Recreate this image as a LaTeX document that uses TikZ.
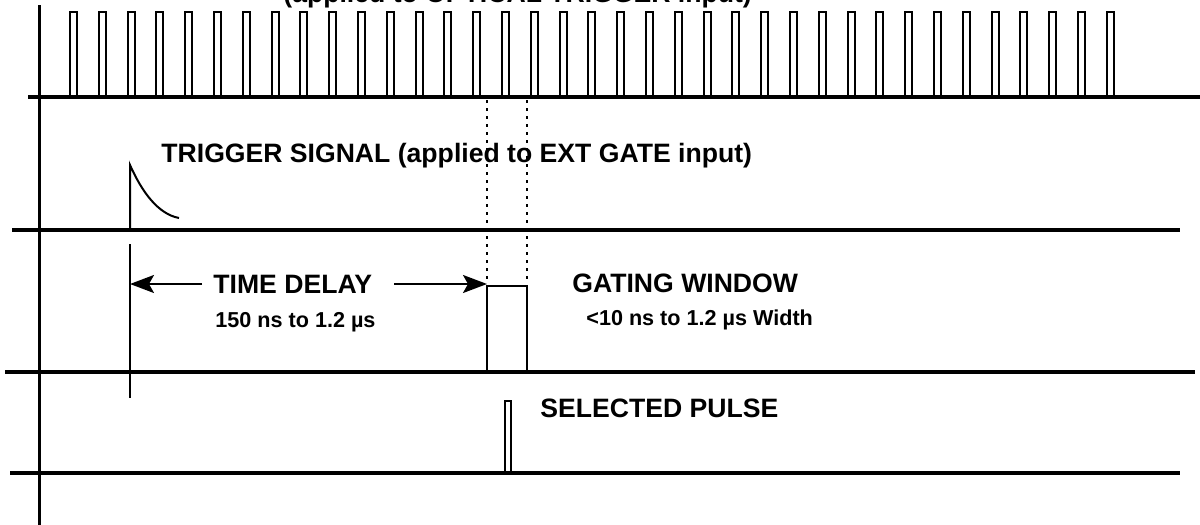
\documentclass[tikz,border=0pt]{standalone}
\usepackage{fontspec}
\setmainfont{Liberation Sans}
\usetikzlibrary{arrows.meta,positioning}

\begin{document}
\begin{tikzpicture}[x=0.5pt,y=-0.5pt,
  base/.style={line width=2pt},
  pulse/.style={line width=1pt},
  delaymark/.style={line width=1pt},
  arr/.style={line width=1pt,-{Stealth[length=12pt,width=9pt,inset=2.5pt]}},
  big/.style={font=\fontsize{13.3pt}{15pt}\bfseries\selectfont,inner sep=0pt,anchor=west},
  small/.style={font=\fontsize{10.8pt}{12pt}\bfseries\selectfont,inner sep=0pt,anchor=west}]
  \useasboundingbox (0,0) rectangle (1200,525);
  % axis and baselines
  \draw[line width=1.5pt] (39,5) -- (39,525);
  \draw[base] (28,97) -- (1200,97);
  \draw[base] (12,230) -- (1180,230);
  \draw[base] (5,372) -- (1195,372);
  \draw[base] (10,473) -- (1180,473);
  % pulse train
  \foreach \i in {0,...,36}
    \draw[pulse] ({70+28.8*\i},97) -- ({70+28.8*\i},12) -- ({77+28.8*\i},12) -- ({77+28.8*\i},97);
  \node[big,anchor=base west] (train) at (283,2.5) {(applied to OPTICAL TRIGGER input)};
  % trigger
  \draw[pulse] (130,230) -- (130,165) .. controls (142,192) and (158,214) .. (179,218);
  \node[big] (trig) at (161,156) {TRIGGER SIGNAL (applied to EXT GATE input)};
  \coordinate (mark) at (130,284);
  \draw[delaymark] (130,244) -- (130,398);
  % gating window
  \coordinate (gtl) at (487,286);
  \coordinate (gtr) at (527,286);
  \draw[line width=1.4pt] (gtl |- 0,371) -- (gtl) -- (gtr) -- (gtr |- 0,371);
  \draw[pulse,dash pattern=on 1.5pt off 2.5pt] (gtl |- 0,100) -- ([yshift=3pt]gtl);
  \draw[pulse,dash pattern=on 1.5pt off 2.5pt] (gtr |- 0,100) -- ([yshift=3pt]gtr);
  \node[big] (delay) at (213,284) {TIME DELAY};
  \node[small] (delayrange) at (215,322) {150 ns to 1.2 µs};
  \draw[arr,shorten <=5.5pt] (delay.west) -- (mark);
  \draw[arr,shorten <=11pt] (delay.east) -- (delay.east -| gtl);
  \node[big] (gate) at (572,283) {GATING WINDOW};
  \node[small] (gatewidth) at (586,320) {<10 ns to 1.2 µs Width};
  % selected pulse
  \draw[pulse] (505,473) -- (505,401) -- (511,401) -- (511,473);
  \node[big] (sel) at (540,408) {SELECTED PULSE};
\end{tikzpicture}
\end{document}
